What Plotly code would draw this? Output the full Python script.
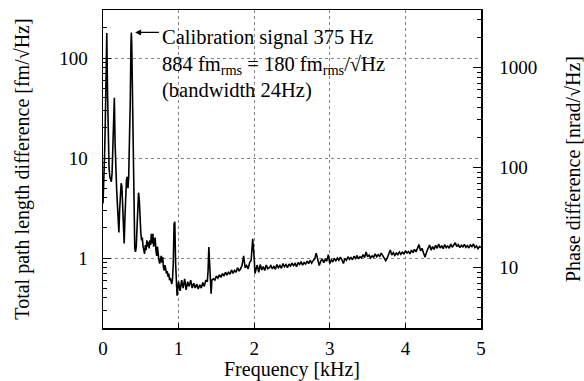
import math
import plotly.graph_objects as go

# ---------------- data ----------------
freq_khz = [
    0.000, 0.010, 0.020, 0.030, 0.040, 0.050, 0.060, 0.070, 0.080, 0.090,
    0.100, 0.110, 0.120, 0.130, 0.140, 0.150, 0.160, 0.170, 0.180, 0.190,
    0.200, 0.210, 0.220, 0.230, 0.240, 0.250, 0.260, 0.270, 0.280, 0.290,
    0.300, 0.310, 0.320, 0.330, 0.340, 0.350, 0.360, 0.370, 0.375, 0.380,
    0.390, 0.400, 0.410, 0.420, 0.430, 0.440, 0.450, 0.460, 0.470, 0.480,
    0.490, 0.500, 0.510, 0.520, 0.530, 0.540, 0.550, 0.560, 0.570, 0.580,
    0.590, 0.600, 0.610, 0.620, 0.630, 0.640, 0.650, 0.660, 0.670, 0.680,
    0.690, 0.700, 0.710, 0.720, 0.730, 0.740, 0.750, 0.760, 0.770, 0.780,
    0.790, 0.800, 0.810, 0.820, 0.830, 0.840, 0.850, 0.860, 0.870, 0.880,
    0.890, 0.900, 0.910, 0.920, 0.930, 0.940, 0.950, 0.960, 0.970, 0.980,
    0.990, 1.000, 1.020, 1.040, 1.060, 1.080, 1.100, 1.120, 1.140, 1.160,
    1.180, 1.200, 1.220, 1.240, 1.260, 1.280, 1.300, 1.320, 1.340, 1.360,
    1.380, 1.390, 1.400, 1.410, 1.420, 1.430, 1.440, 1.460, 1.480, 1.500,
    1.520, 1.540, 1.560, 1.580, 1.600, 1.620, 1.640, 1.660, 1.680, 1.700,
    1.720, 1.740, 1.760, 1.780, 1.800, 1.820, 1.840, 1.860, 1.880, 1.900,
    1.920, 1.940, 1.960, 1.980, 2.000, 2.010, 2.020, 2.040, 2.060, 2.080,
    2.100, 2.120, 2.140, 2.160, 2.180, 2.200, 2.220, 2.240, 2.260, 2.280,
    2.300, 2.320, 2.340, 2.360, 2.380, 2.400, 2.420, 2.440, 2.460, 2.480,
    2.500, 2.520, 2.540, 2.560, 2.580, 2.600, 2.620, 2.640, 2.660, 2.680,
    2.700, 2.720, 2.740, 2.760, 2.780, 2.800, 2.820, 2.840, 2.860, 2.880,
    2.900, 2.920, 2.940, 2.960, 2.980, 3.000, 3.020, 3.040, 3.060, 3.080,
    3.100, 3.120, 3.140, 3.160, 3.180, 3.200, 3.220, 3.240, 3.260, 3.280,
    3.300, 3.320, 3.340, 3.360, 3.380, 3.400, 3.420, 3.440, 3.460, 3.480,
    3.500, 3.520, 3.540, 3.560, 3.580, 3.600, 3.620, 3.640, 3.660, 3.680,
    3.700, 3.720, 3.740, 3.760, 3.780, 3.800, 3.820, 3.840, 3.860, 3.880,
    3.900, 3.920, 3.940, 3.960, 3.980, 4.000, 4.020, 4.040, 4.060, 4.080,
    4.100, 4.120, 4.140, 4.160, 4.180, 4.200, 4.220, 4.240, 4.260, 4.280,
    4.300, 4.320, 4.340, 4.360, 4.380, 4.400, 4.420, 4.440, 4.460, 4.480,
    4.500, 4.520, 4.540, 4.560, 4.580, 4.600, 4.620, 4.640, 4.660, 4.680,
    4.700, 4.720, 4.740, 4.760, 4.780, 4.800, 4.820, 4.840, 4.860, 4.880,
    4.900, 4.920, 4.940, 4.960, 4.980, 5.000,
]

# total path length difference [fm/sqrt(Hz)]
path_noise_fm = [
    3.5, 5.0, 10, 22, 45, 178, 45, 14, 8, 6.5,
    6.0, 5.8, 7.0, 11, 22, 40, 14, 6, 5, 3.5,
    2.0, 1.8, 3.0, 4.5, 5.6, 5.2, 2.8, 1.6, 1.4, 2.5,
    5.0, 6.0, 6.5, 5.0, 6.5, 12, 35, 140, 180, 140,
    30, 6, 1.6, 1.25, 1.15, 1.3, 2.0, 3.5, 4.5, 3.8,
    2.2, 1.8, 1.5, 1.6, 1.3, 1.2, 1.1, 1.35, 1.2, 1.5,
    1.3, 1.45, 1.25, 1.5, 1.35, 1.75, 1.4, 1.75, 1.3, 1.5,
    1.6, 1.2, 1.05, 1.3, 1.0, 0.95, 0.88, 1.0, 1.05, 0.9,
    1.02, 0.8, 0.75, 0.85, 0.78, 0.7, 0.74, 0.65, 0.7, 0.6,
    0.63, 0.58, 0.55, 0.62, 0.9, 2.2, 2.3, 0.9, 0.45, 0.42,
    0.5, 0.58, 0.47, 0.6, 0.5, 0.62, 0.48, 0.58, 0.52, 0.6,
    0.5, 0.56, 0.5, 0.55, 0.49, 0.54, 0.5, 0.57, 0.52, 0.6,
    0.58, 0.75, 1.29, 0.8, 0.48, 0.44, 0.6, 0.62, 0.6, 0.66,
    0.63, 0.68, 0.64, 0.7, 0.66, 0.72, 0.68, 0.72, 0.69, 0.76,
    0.7, 0.75, 0.72, 0.8, 0.74, 0.78, 0.85, 1.05, 0.8, 0.84,
    0.78, 0.9, 0.95, 1.56, 1.0, 0.7, 0.75, 0.85, 0.72, 0.86,
    0.76, 0.82, 0.75, 0.85, 0.78, 0.8, 0.84, 0.78, 0.83, 0.77,
    0.86, 0.80, 0.84, 0.79, 0.88, 0.82, 0.86, 0.80, 0.87, 0.83,
    0.89, 0.84, 0.88, 0.82, 0.90, 0.86, 0.92, 0.85, 0.90, 0.87,
    0.93, 0.88, 0.95, 0.89, 0.94, 0.98, 1.12, 0.95, 0.84, 0.93,
    0.98, 0.90, 0.97, 0.93, 1.08, 0.88, 0.96, 0.92, 0.99, 0.94,
    1.00, 0.95, 1.02, 0.96, 0.88, 0.99, 0.95, 1.03, 0.97, 1.01,
    0.96, 1.04, 0.99, 1.06, 0.98, 1.03, 1.00, 1.08, 1.01, 1.15,
    1.03, 1.07, 1.00, 1.05, 1.02, 1.10, 1.03, 1.08, 1.04, 1.12,
    1.05, 1.02, 0.94, 1.00, 1.08, 1.20, 1.07, 1.13, 1.06, 1.12,
    1.08, 1.15, 1.09, 1.14, 1.10, 1.18, 1.12, 1.16, 1.10, 1.20,
    1.13, 1.22, 1.15, 1.28, 1.36, 1.18, 1.25, 1.12, 1.02, 1.15,
    1.28, 1.35, 1.20, 1.30, 1.22, 1.34, 1.25, 1.38, 1.26, 1.33,
    1.24, 1.36, 1.27, 1.32, 1.25, 1.38, 1.28, 1.35, 1.42, 1.30,
    1.36, 1.27, 1.34, 1.29, 1.37, 1.28, 1.33, 1.26, 1.35, 1.30,
    1.38, 1.27, 1.32, 1.24, 1.30, 1.28,
]

phase_per_fm = 12.5          # nrad per fm (right-axis scale factor)
cal_freq = 0.375             # kHz, calibration line
x_tick_vals = [0, 1, 2, 3, 4, 5]
left_tick_vals = [1, 10, 100]
right_tick_vals = [10, 100, 1000]
annot_lines = [
    "Calibration signal 375 Hz",
    "884 fm<sub>rms</sub> = 180 fm<sub>rms</sub>/\u221aHz",
    "(bandwidth 24Hz)",
]

# ---------------- figure ----------------
phase_noise = [v * phase_per_fm for v in path_noise_fm]
FONT = "Liberation Serif"

fig = go.Figure()
fig.add_trace(go.Scatter(x=freq_khz, y=path_noise_fm, mode="lines",
                         line=dict(color="black", width=1.6),
                         showlegend=False, hoverinfo="skip"))
fig.add_trace(go.Scatter(x=freq_khz, y=phase_noise, yaxis="y2", mode="lines",
                         line=dict(color="black", width=0), opacity=0,
                         showlegend=False, hoverinfo="skip"))

ylo, yhi = -0.70, 2.48
off = math.log10(phase_per_fm)
minor_left = [m * 10 ** e for e in range(-1, 3) for m in range(2, 10)]
minor_right = [m * 10 ** e for e in range(0, 4) for m in range(2, 10)]

grid = dict(showgrid=True, gridcolor="#666", griddash="dot", gridwidth=0.8)

fig.update_layout(
    width=584, height=381,
    margin=dict(l=103, r=103, t=10, b=53, autoexpand=False),
    paper_bgcolor="white", plot_bgcolor="white",
    font=dict(family=FONT, size=19, color="black"),
    xaxis=dict(range=[0, 5], tickmode="array", tickvals=x_tick_vals,
               ticks="inside", ticklen=5, tickcolor="black", tickwidth=1,
               showline=True, linecolor="black", linewidth=1.5, mirror=True,
               zeroline=False, ticklabelstandoff=3, automargin=False,
               title=dict(text="Frequency [kHz]", font=dict(size=20, family=FONT),
                          standoff=4),
               tickfont=dict(family=FONT, size=19),
               **grid),
    yaxis=dict(type="log", range=[ylo, yhi], tickmode="array",
               tickvals=left_tick_vals, ticktext=[str(v) for v in left_tick_vals],
               ticks="inside", ticklen=8, tickcolor="black",
               minor=dict(tickmode="array", tickvals=minor_left, ticks="inside",
                          ticklen=4, tickcolor="black", showgrid=False),
               showline=True, linecolor="black", linewidth=1.5, mirror=False,
               zeroline=False, ticklabelstandoff=10, automargin=False,
               tickfont=dict(family=FONT, size=19),
               title=dict(text="Total path length difference [fm/\u221aHz]",
                          font=dict(size=20, family=FONT), standoff=24),
               **grid),
    yaxis2=dict(type="log", overlaying="y", side="right",
                range=[ylo + off, yhi + off], tickmode="array",
                tickvals=right_tick_vals, ticktext=[str(v) for v in right_tick_vals],
                ticks="inside", ticklen=8, tickcolor="black",
                minor=dict(tickmode="array", tickvals=minor_right, ticks="inside",
                           ticklen=4, tickcolor="black", showgrid=False),
                showline=True, linecolor="black", linewidth=1.5,
                showgrid=False, zeroline=False, ticklabelstandoff=13,
                automargin=False,
                tickfont=dict(family=FONT, size=19),
                title=dict(text="Phase difference [nrad/\u221aHz]",
                           font=dict(size=20, family=FONT), standoff=30)),
)

cal_idx = freq_khz.index(cal_freq)
peak_log = math.log10(path_noise_fm[cal_idx])

fig.add_annotation(x=cal_freq + 0.05, y=peak_log, xref="x", yref="y",
                   ax=0.76, ay=peak_log, axref="x", ayref="y",
                   text="", showarrow=True, arrowhead=2, arrowsize=1,
                   arrowwidth=1.2, arrowcolor="black", standoff=0)
fig.add_annotation(x=0.76, y=0.955, xref="x", yref="paper",
                   xanchor="left", yanchor="top", align="left",
                   text="<br>".join(annot_lines), showarrow=False,
                   font=dict(size=20.5, family=FONT, color="black"))

fig.write_html("out.html",
               config={"displayModeBar": False, "staticPlot": True},
               post_script="document.body.style.margin='0px';"
                           "document.body.style.padding='0px';")
